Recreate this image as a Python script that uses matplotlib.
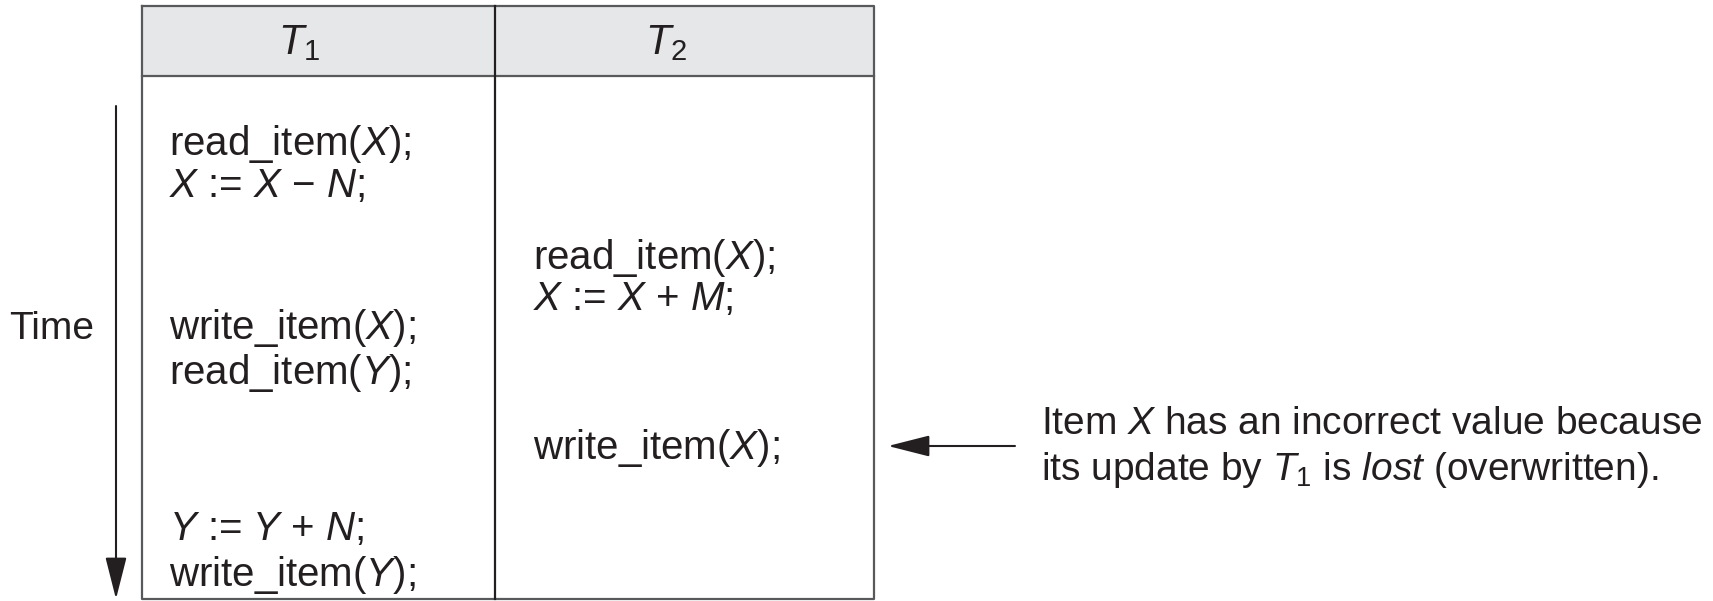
import matplotlib.pyplot as plt

fam = "Liberation Sans"
plt.rcParams["font.family"] = fam
plt.rcParams["mathtext.fontset"] = "custom"
plt.rcParams["mathtext.rm"] = fam
plt.rcParams["mathtext.it"] = fam + ":italic"

# schedule: (transaction column, operation), in time order
transactions = ["$T_1$", "$T_2$"]
schedule = [
    (0, r"read_item($X$);"),
    (0, r"$X$ := $X$ − $N$;"),
    (1, r"read_item($X$);"),
    (1, r"$X$ := $X$ + $M$;"),
    (0, r"write_item($X$);"),
    (0, r"read_item($Y$);"),
    (1, r"write_item($X$);"),
    (0, r"$Y$ := $Y$ + $N$;"),
    (0, r"write_item($Y$);"),
]
# baseline (pixels from top) of each operation
op_rows = [155, 197, 269, 310, 339, 384, 459, 540, 586]
note_lines = [r"Item $X$ has an incorrect value because",
              r"its update by $T_1$ is $lost$ (overwritten)."]

W, H = 1713, 601
fig = plt.figure(figsize=(W / 100, H / 100), dpi=100)
ax = fig.add_axes([0, 0, 1, 1])
ax.set_xlim(0, W)
ax.set_ylim(H, 0)
ax.axis("off")

left, mid, right = 142, 495, 874
top, head, bottom = 6, 76, 599
ink = "#231f20"
fs = 29

ax.add_patch(plt.Rectangle((left, top), right - left, head - top,
                           facecolor="#e6e7e8", edgecolor="none"))
ax.plot([left, right, right, left, left], [top, top, bottom, bottom, top],
        color="#58595b", lw=1.6)
ax.plot([left, right], [head, head], color="#58595b", lw=1.6)
ax.plot([mid, mid], [top, bottom], color=ink, lw=1.6)

head_x = [299, 666]
for t, x in zip(transactions, head_x):
    ax.text(x, 54, t, fontsize=fs + 1, ha="center", va="baseline", color=ink)

col_x = [169, 533]
for (col, op), y in zip(schedule, op_rows):
    ax.text(col_x[col], y, op, fontsize=fs, ha="left", va="baseline", color=ink)

arrow = dict(arrowstyle="-|>,head_width=0.33,head_length=1.3",
             mutation_scale=20, color=ink, lw=1.5, shrinkA=0, shrinkB=0)

# time axis
ax.annotate("", xy=(116, 599), xytext=(116, 106), arrowprops=arrow)
ax.text(9, 339, "Time", fontsize=28, ha="left", va="baseline", color=ink)

# lost update note
ax.annotate("", xy=(888, 446), xytext=(1015, 446), arrowprops=arrow)
ax.text(1041, 434, note_lines[0], fontsize=28, ha="left", va="baseline", color=ink)
ax.text(1041, 480, note_lines[1], fontsize=28, ha="left", va="baseline", color=ink)

fig.savefig("out.png", dpi=100)
